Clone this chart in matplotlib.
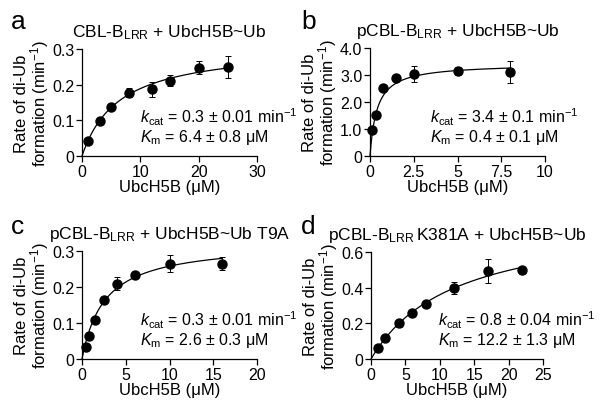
import numpy as np
import matplotlib
matplotlib.use("Agg")
import matplotlib.pyplot as plt

plt.rcParams['font.family'] = ['Liberation Sans', 'DejaVu Sans']
plt.rcParams['mathtext.fontset'] = 'custom'
plt.rcParams['mathtext.rm'] = 'Liberation Sans'
plt.rcParams['mathtext.it'] = 'Liberation Sans:italic'
plt.rcParams['mathtext.bf'] = 'Liberation Sans:bold'

# panel a
a_x   = [1, 3, 5, 8, 12, 15, 20, 25]
a_y   = [0.043, 0.099, 0.138, 0.178, 0.187, 0.211, 0.248, 0.250]
a_err = [0.004, 0.004, 0.004, 0.013, 0.021, 0.016, 0.019, 0.031]
# panel b
b_x   = [0.13, 0.35, 0.75, 1.5, 2.5, 5, 8]
b_y   = [0.95, 1.52, 2.52, 2.88, 3.04, 3.14, 3.12]
b_err = [0.03, 0.05, 0.12, 0.10, 0.29, 0.14, 0.41]
# panel c
c_x   = [0.5, 0.75, 1.5, 2.5, 4, 6, 10, 16]
c_y   = [0.034, 0.065, 0.109, 0.164, 0.209, 0.234, 0.265, 0.265]
c_err = [0.003, 0.003, 0.003, 0.004, 0.018, 0.005, 0.023, 0.019]
# panel d
d_x   = [1, 2, 4, 6, 8, 12, 17, 22]
d_y   = [0.060, 0.115, 0.200, 0.260, 0.307, 0.398, 0.493, 0.497]
d_err = [0.008, 0.016, 0.020, 0.015, 0.015, 0.035, 0.069, 0.020]

# fitted Michaelis-Menten parameters (kcat, Km) as drawn
fits = {'a': (0.31, 6.4), 'b': (3.42, 0.4), 'c': (0.325, 2.6), 'd': (0.8, 12.2)}

titles = {
    'a': 'CBL-B$_{\\rm LRR}$ + UbcH5B~Ub',
    'b': 'pCBL-B$_{\\rm LRR}$ + UbcH5B~Ub',
    'c': 'pCBL-B$_{\\rm LRR}$ + UbcH5B~Ub T9A',
    'd': 'pCBL-B$_{\\rm LRR}\\,$K381A + UbcH5B~Ub',
}
kcat_txt = {'a': '0.3 ± 0.01', 'b': '3.4 ± 0.1', 'c': '0.3 ± 0.01', 'd': '0.8 ± 0.04'}
km_txt   = {'a': '6.4 ± 0.8', 'b': '0.4 ± 0.1', 'c': '2.6 ± 0.3', 'd': '12.2 ± 1.3'}

xticks = {'a': [0, 10, 20, 30], 'b': [0, 2.5, 5, 7.5, 10],
          'c': [0, 5, 10, 15, 20], 'd': [0, 5, 10, 15, 20, 25]}
xlabels = {'a': ['0', '10', '20', '30'], 'b': ['0', '2.5', '5', '7.5', '10'],
           'c': ['0', '5', '10', '15', '20'], 'd': ['0', '5', '10', '15', '20', '25']}
yticks = {'a': [0, 0.1, 0.2, 0.3], 'b': [0, 1, 2, 3, 4],
          'c': [0, 0.1, 0.2, 0.3], 'd': [0, 0.2, 0.4, 0.6]}
ylabels = {'a': ['0', '0.1', '0.2', '0.3'], 'b': ['0', '1.0', '2.0', '3.0', '4.0'],
           'c': ['0', '0.1', '0.2', '0.3'], 'd': ['0', '0.2', '0.4', '0.6']}

data = {'a': (a_x, a_y, a_err), 'b': (b_x, b_y, b_err),
        'c': (c_x, c_y, c_err), 'd': (d_x, d_y, d_err)}

W, H = 600, 410
boxes = {'a': (82, 50, 257, 157), 'b': (370, 49, 545, 157),
         'c': (82, 252, 257, 360), 'd': (371, 253, 543, 360)}
letter_pos = {'a': (11, 29), 'b': (301, 29), 'c': (11, 234), 'd': (301, 234)}
text_x = {'a': 0.33, 'b': 0.34, 'c': 0.33, 'd': 0.39}

fig = plt.figure(figsize=(6, 4.1), dpi=100)

for key in ['a', 'b', 'c', 'd']:
    l, t, r, b = boxes[key]
    ax = fig.add_axes([l / W, 1 - b / H, (r - l) / W, (b - t) / H])
    xs, ys, es = data[key]
    kcat, km = fits[key]
    s = np.linspace(0, max(xs), 300)
    ax.plot(s, kcat * s / (km + s), color='black', lw=0.9, clip_on=False)
    ax.errorbar(xs, ys, yerr=es, fmt='o', color='black', ms=6.5,
                elinewidth=0.7, capsize=2, capthick=0.7, clip_on=False)
    ax.set_xlim(xticks[key][0], xticks[key][-1])
    ax.set_ylim(yticks[key][0], yticks[key][-1])
    ax.set_xticks(xticks[key])
    ax.set_xticklabels(xlabels[key])
    ax.set_yticks(yticks[key])
    ax.set_yticklabels(ylabels[key])
    for sp in ['top', 'right']:
        ax.spines[sp].set_visible(False)
    for sp in ['left', 'bottom']:
        ax.spines[sp].set_linewidth(0.9)
    ax.tick_params(direction='out', length=4, width=0.9, labelsize=11.5, pad=1.5)
    ax.set_xlabel('UbcH5B (μM)', fontsize=12, labelpad=0)
    ax.set_ylabel('Rate of di-Ub\nformation (min$^{-1}$)', fontsize=12,
                  labelpad=1, linespacing=0.95)
    ax.set_title(titles[key], fontsize=12.5, pad=9)
    ax.text(text_x[key], 0.37, '$k_{\\rm cat}$ = ' + kcat_txt[key] + ' min$^{-1}$',
            transform=ax.transAxes, fontsize=11.5, va='center', ha='left')
    ax.text(text_x[key], 0.18, '$K_{\\rm m}$ = ' + km_txt[key] + ' μM',
            transform=ax.transAxes, fontsize=11.5, va='center', ha='left')
    lx, ly = letter_pos[key]
    fig.text(lx / W, 1 - ly / H, key, fontsize=19, ha='left', va='baseline')

fig.savefig('out.png', dpi=100)
